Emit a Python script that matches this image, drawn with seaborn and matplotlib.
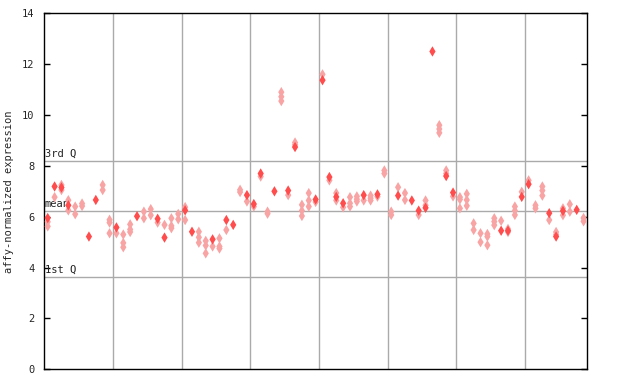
import numpy as np
import pandas as pd
import matplotlib
matplotlib.use("Agg")
import matplotlib.pyplot as plt
import seaborn as sns

# ── Dados ──────────────────────────────────────────────────────────────────────
# um valor "cheio" por amostra (nan = sem ponto cheio) e os pontos "tracejados"
solid = [5.95, 7.19, 7.15, 6.45, np.nan, np.nan, 5.22, 6.66, np.nan, np.nan,
         5.58, np.nan, np.nan, 6.02, np.nan, np.nan, 5.92, 5.18, np.nan, np.nan,
         6.25, 5.41, np.nan, np.nan, 5.11, np.nan, 5.87, 5.68, np.nan, 6.85,
         6.50, 7.70, np.nan, 7.00, np.nan, 7.03, 8.74, np.nan, np.nan, 6.68,
         11.37, 7.56, 6.78, 6.53, np.nan, np.nan, 6.85, np.nan, 6.88, np.nan,
         np.nan, 6.83, np.nan, 6.64, 6.24, 6.35, 12.50, np.nan, 7.60, 6.95,
         np.nan, np.nan, np.nan, np.nan, np.nan, np.nan, 5.45, 5.45, np.nan, 6.78,
         7.28, np.nan, np.nan, 6.14, 5.22, 6.23, np.nan, 6.27, np.nan]

hatched = [[5.8, 5.62], [6.77], [7.25, 7.05], [6.65, 6.25], [6.4, 6.1],
           [6.52, 6.42], [], [], [7.25, 7.05], [5.88, 5.77, 5.35],
           [5.35], [5.3, 4.97, 4.8], [5.7, 5.5, 5.4], [], [6.2, 5.94],
           [6.3, 6.06], [5.77], [5.68], [5.94, 5.64, 5.55], [6.11, 5.9],
           [6.38, 5.87], [], [5.41, 5.19, 4.98], [5.05, 4.87, 4.56], [4.83],
           [5.15, 4.83, 4.75], [5.48], [], [7.06, 6.97], [6.6],
           [6.4], [7.58], [6.2, 6.12], [], [10.9, 10.72, 10.55],
           [6.85], [8.92, 8.83], [6.47, 6.24, 6.03], [6.93, 6.64, 6.4], [6.58],
           [11.6], [7.43], [6.93, 6.64], [6.37], [6.77, 6.53, 6.4],
           [6.8, 6.69, 6.6], [6.64], [6.83, 6.73, 6.64], [6.79], [7.82, 7.7],
           [6.2, 6.07], [7.16], [6.93, 6.66], [], [6.07],
           [6.64, 6.45], [], [9.6, 9.45, 9.3], [7.82, 7.7], [6.8],
           [6.77, 6.68, 6.33], [6.9, 6.66, 6.43], [5.74, 5.48], [5.35, 5.0],
           [5.32, 5.22, 4.88], [5.94, 5.81, 5.67], [5.84], [5.52, 5.4],
           [6.4, 6.24, 6.07], [6.98],
           [7.43], [6.45, 6.33], [7.19, 7.03, 6.83], [5.87], [5.4, 5.3],
           [6.33, 6.06], [6.49, 6.2], [], [5.95, 5.82]]

group_bounds = [10, 20, 30, 40, 50, 60, 70]
quartiles = {"3rd Q": 8.21, "mean": 6.22, "1st Q": 3.64}
y_ticks = [0, 2, 4, 6, 8, 10, 12, 14]

# ── Tabela longa ───────────────────────────────────────────────────────────────
rows = []
for i, v in enumerate(solid):
    for h in hatched[i]:
        rows.append({"x": i + 0.5, "valor": h, "tipo": "hatched"})
    if not np.isnan(v):
        rows.append({"x": i + 0.5, "valor": v, "tipo": "solid"})
df = pd.DataFrame(rows)
n = len(solid)

# ── Gráfico ────────────────────────────────────────────────────────────────────
sns.set_style("white")
plt.rcParams["font.family"] = ["DejaVu Sans Mono"]

fig = plt.figure(figsize=(6.4, 3.84), dpi=100)
ax = fig.add_axes([0.0692, 0.0383, 0.848, 0.9270])

for b in group_bounds:
    ax.axvline(b, color="#aaaaaa", linewidth=1, zorder=1)
for lab, q in quartiles.items():
    ax.axhline(q, color="#aaaaaa", linewidth=1, zorder=1)
    ax.text(0.1, q + 0.07, lab, fontsize=7.5, color="#222222",
            ha="left", va="bottom", zorder=2)

sns.scatterplot(data=df, x="x", y="valor", hue="tipo",
                palette={"hatched": "#f8a4a4", "solid": "#ff4c4c"},
                marker="d", s=28, linewidth=0, legend=False, zorder=3, ax=ax)

ax.set_xlim(0, n)
ax.set_ylim(0, 14)
ax.set_xticks([])
ax.set_yticks(y_ticks)
ax.set_yticklabels([str(t) for t in y_ticks], fontsize=7.5)
ax.tick_params(axis="y", direction="in", length=4, width=1, color="black",
               left=True, right=True, pad=7)
ax.set_xlabel("")
ax.set_ylabel("affy-normalized expression", fontsize=7.5)
ax.yaxis.set_label_coords(-0.056, 0.5)
for sp in ax.spines.values():
    sp.set_color("black")
    sp.set_linewidth(1)

fig.savefig("out.png", dpi=100)
